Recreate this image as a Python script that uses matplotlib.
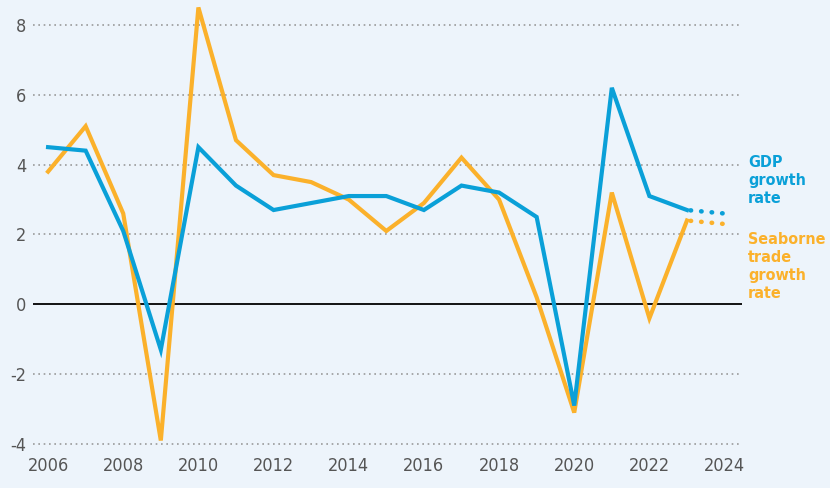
import matplotlib
matplotlib.use("Agg")
import matplotlib.pyplot as plt
from matplotlib import font_manager
from matplotlib.font_manager import FontProperties

# --- data ---
years = [2006, 2007, 2008, 2009, 2010, 2011, 2012, 2013, 2014, 2015,
         2016, 2017, 2018, 2019, 2020, 2021, 2022, 2023]
gdp = [4.5, 4.4, 2.1, -1.3, 4.5, 3.4, 2.7, 2.9, 3.1, 3.1,
       2.7, 3.4, 3.2, 2.5, -2.9, 6.2, 3.1, 2.7]
seaborne = [3.8, 5.1, 2.6, -3.9, 8.5, 4.7, 3.7, 3.5, 3.0, 2.1,
            2.9, 4.2, 3.0, 0.2, -3.1, 3.2, -0.4, 2.4]
proj_years = [2023, 2024]
gdp_proj = [2.7, 2.6]
seaborne_proj = [2.4, 2.3]
xticks = [2006, 2008, 2010, 2012, 2014, 2016, 2018, 2020, 2022, 2024]
yticks = [-4, -2, 0, 2, 4, 6, 8]

blue = '#0aa0d8'
orange = '#fbb12b'
bg = '#edf4fb'

# look for a condensed face, the reference uses a narrow grotesque
def find_font(bold):
    best = None
    for f in font_manager.fontManager.ttflist:
        fn = f.fname.lower()
        if ('narrow' in fn or 'condensed' in fn) and 'oblique' not in fn and 'italic' not in fn:
            isbold = 'bold' in fn
            if isbold == bold:
                if best is None or 'liberation' in fn:
                    best = f.fname
    return best

reg = find_font(False)
bld = find_font(True)
fp_reg = FontProperties(fname=reg) if reg else FontProperties(family='DejaVu Sans')
fp_bold = FontProperties(fname=bld) if bld else FontProperties(family='DejaVu Sans', weight='bold')
plt.rcParams['axes.unicode_minus'] = False

fig = plt.figure(figsize=(8.3, 4.88), dpi=100, facecolor=bg)
ax = fig.add_axes([0.0398, 0.083, 0.854, 0.916])
ax.set_facecolor(bg)

# grid lines (dotted), zero line solid
for y in yticks:
    if y == 0:
        ax.axhline(0, color='black', lw=1.3, zorder=1)
    else:
        ax.axhline(y, color='#9a9a9a', lw=1.2, ls=(0, (1, 2.2)), zorder=1)

ax.plot(years, seaborne, color=orange, lw=3.0, solid_joinstyle='miter', zorder=3)
ax.plot(years, gdp, color=blue, lw=3.0, solid_joinstyle='miter', zorder=4)
ax.plot(proj_years, seaborne_proj, color=orange, lw=3.3, ls=(1.5, (0.1, 2.2)),
        dash_capstyle='round', zorder=3)
ax.plot(proj_years, gdp_proj, color=blue, lw=3.3, ls=(1.5, (0.1, 2.2)),
        dash_capstyle='round', zorder=4)

ax.set_xlim(2005.6, 2024.46)
ax.set_ylim(-4.1, 8.7)
ax.set_xticks(xticks)
ax.set_yticks(yticks)
ax.set_xticklabels([str(v) for v in xticks])
ax.set_yticklabels([str(v) for v in yticks])
ax.tick_params(length=0, colors='#555555', pad=7)
ax.tick_params(axis='y', pad=5)
for lab in ax.get_xticklabels() + ax.get_yticklabels():
    lab.set_fontproperties(fp_reg)
    lab.set_fontsize(13)
for s in ax.spines.values():
    s.set_visible(False)

# inline labels
fig.text(748 / 830, 1 - 155 / 488, "GDP\ngrowth\nrate", color=blue, fontproperties=fp_bold,
         fontsize=11.5, va='top', ha='left', linespacing=1.25)
fig.text(748 / 830, 1 - 232 / 488, "Seaborne\ntrade\ngrowth\nrate", color=orange,
         fontproperties=fp_bold, fontsize=11.5, va='top', ha='left', linespacing=1.25)

fig.savefig('out.png', dpi=100, facecolor=bg)
